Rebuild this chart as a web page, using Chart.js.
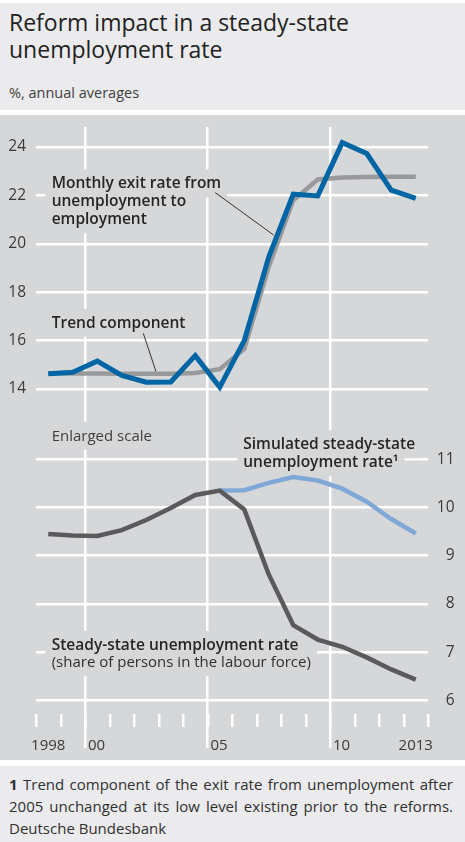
<!DOCTYPE html>
<html lang="en">
<head>
<meta charset="utf-8">
<title>Reform impact in a steady-state unemployment rate</title>
<script src="https://cdn.jsdelivr.net/npm/chart.js@4.4.1/dist/chart.umd.min.js"></script>
<style>
  html, body { margin: 0; padding: 0; background: #ffffff; }
  body { position: relative; width: 465px; height: 842px; overflow: hidden; font-family: "Open Sans", sans-serif; }
  .band { position: absolute; left: 0; width: 465px; }
  #head { top: 3px; height: 107px; background: #ebebed; }
  #plot { top: 115px; height: 645px; background: #d6d7d9; }
  #foot { top: 766px; height: 76px; background: #ebebed; }
  #title { position: absolute; left: 9px; top: 6px; margin: 0; font-size: 23px; font-weight: 400; line-height: 27.4px; color: #222222; }
  #subtitle { position: absolute; left: 9px; top: 80px; font-size: 14.5px; line-height: 20px; color: #404040; }
  #note { position: absolute; left: 9px; top: 6.5px; width: 444px; font-size: 15px; line-height: 22.7px; color: #303030; }
  #note div { text-align: justify; text-align-last: justify; }
  #source { position: absolute; left: 9px; top: 50.5px; font-size: 15px; line-height: 22.7px; color: #303030; }
  canvas { display: block; }
</style>
</head>
<body>
<div class="band" id="head">
  <h1 id="title">Reform impact in a steady-state<br>unemployment rate</h1>
  <div id="subtitle">%, annual averages</div>
</div>
<div class="band" id="plot">
  <canvas id="chart" width="465" height="645"></canvas>
</div>
<div class="band" id="foot">
  <div id="note">
    <div><b>1</b> Trend component of the exit rate from unemployment after</div>
    <div>2005 unchanged at its low level existing prior to the reforms.</div>
  </div>
  <div id="source">Deutsche Bundesbank</div>
</div>

<script>
// Annual averages, 1998-2013
const years = [1998, 1999, 2000, 2001, 2002, 2003, 2004, 2005, 2006, 2007, 2008, 2009, 2010, 2011, 2012, 2013];

// Upper panel: monthly exit rate from unemployment to employment (%)
const exitRate      = [14.63, 14.69, 15.15, 14.56, 14.28, 14.29, 15.38, 14.08, 16.00, 19.45, 22.05, 21.98, 24.18, 23.73, 22.22, 21.88];
const exitRateTrend = [14.64, 14.64, 14.64, 14.63, 14.63, 14.63, 14.66, 14.82, 15.65, 19.05, 21.80, 22.66, 22.74, 22.76, 22.77, 22.77];

// Lower panel (enlarged scale): steady-state unemployment rate (%)
const steadyStateRate = [9.45, 9.42, 9.41, 9.53, 9.74, 9.99, 10.26, 10.35, 9.96, 8.61, 7.56, 7.26, 7.11, 6.89, 6.64, 6.43];
const simulatedRate   = [null, null, null, null, null, null, null, 10.35, 10.36, 10.51, 10.63, 10.56, 10.39, 10.12, 9.76, 9.46];

// Axis ticks and labels
const exitTicks = [14, 16, 18, 20, 22, 24];
const rateTicks = [6, 7, 8, 9, 10, 11];
const gridYears = [2000, 2005, 2010];
const xTickLabels = ['1998', '00', '05', '10', '2013'];

const PLOT_BG = '#d6d7d9';
const GRID = '#ffffff';
const INK = '#262626';
const SEMI = '600 15.5px "Open Sans"';
const REG = '400 15px "Open Sans"';

// annual averages sit in the middle of each year
const series = values => years.map((yr, i) => ({ x: yr + 0.5, y: values[i] }));

// Placement of the in-chart texts, leader lines and the bottom year ruler
const decor = {
  tickTop: 34,
  tickBottom: 21,
  labelDrop: 1.5,
  yearLabels: [
    { at: 1998.5, align: 'center', shift: 0 },
    { at: 2000, align: 'left', shift: 3 },
    { at: 2005, align: 'left', shift: 3 },
    { at: 2010, align: 'left', shift: 3 },
    { at: 2013.5, align: 'center', shift: 0 }
  ],
  labels: [
    { axis: 'yTop', x: 1998.64, y: 22.29, gap: 18,
      lines: [ { text: 'Monthly exit rate from', font: SEMI },
               { text: 'unemployment to', font: SEMI },
               { text: 'employment', font: SEMI } ] },
    { axis: 'yTop', x: 1998.64, y: 16.53, gap: 18,
      lines: [ { text: 'Trend component', font: SEMI } ] },
    { axis: 'yBot', x: 1998.64, y: 11.386, gap: 18,
      lines: [ { text: 'Enlarged scale', font: REG, color: '#404040' } ] },
    { axis: 'yBot', x: 2006.46, y: 11.207, gap: 18,
      lines: [ { text: 'Simulated steady-state', font: SEMI },
               { text: 'unemployment rate\u00B9', font: SEMI } ] },
    { axis: 'yBot', x: 1998.64, y: 7.044, gap: 17.3,
      lines: [ { text: 'Steady-state unemployment rate', font: SEMI },
               { text: '(share of persons in the labour force)', font: REG, color: '#303030' } ] }
  ],
  leaders: [
    { axis: 'yTop', from: [2005.31, 22.12], to: [2007.70, 20.36] },
    { axis: 'yTop', from: [2002.38, 16.30], to: [2002.90, 14.71] }
  ]
};

// Draws labels (on backing boxes that interrupt the grid), leader lines,
// the year tick marks along the bottom and the year labels.
const panelDecor = {
  id: 'panelDecor',
  beforeDatasetsDraw(chart) {
    const ctx = chart.ctx;
    const xs = chart.scales.x;
    const area = chart.chartArea;
    ctx.save();

    // year tick marks
    ctx.strokeStyle = GRID;
    ctx.lineWidth = 2.5;
    const bounds = years.concat(years[years.length - 1] + 1);
    bounds.forEach(yr => {
      const px = Math.round(xs.getPixelForValue(yr)) + 0.25;
      ctx.beginPath();
      ctx.moveTo(px, area.bottom - decor.tickTop);
      ctx.lineTo(px, area.bottom - decor.tickBottom);
      ctx.stroke();
    });

    // year labels
    ctx.fillStyle = '#3a3a3a';
    ctx.font = '400 15px "Open Sans"';
    ctx.textBaseline = 'alphabetic';
    decor.yearLabels.forEach((pos, i) => {
      ctx.textAlign = pos.align;
      ctx.fillText(xTickLabels[i], xs.getPixelForValue(pos.at) + pos.shift, area.bottom + decor.labelDrop);
    });

    // label boxes first, then text
    decor.labels.forEach(lab => {
      const ys = chart.scales[lab.axis];
      const left = xs.getPixelForValue(lab.x);
      const base = ys.getPixelForValue(lab.y);
      ctx.fillStyle = PLOT_BG;
      lab.lines.forEach((ln, i) => {
        ctx.font = ln.font;
        const w = ctx.measureText(ln.text).width;
        const b = base + i * lab.gap;
        ctx.fillRect(left - 6, b - 19, w + 12, 28);
      });
    });
    ctx.textAlign = 'left';
    decor.labels.forEach(lab => {
      const ys = chart.scales[lab.axis];
      const left = xs.getPixelForValue(lab.x);
      const base = ys.getPixelForValue(lab.y);
      lab.lines.forEach((ln, i) => {
        ctx.font = ln.font;
        ctx.fillStyle = ln.color || INK;
        ctx.fillText(ln.text, left, base + i * lab.gap);
      });
    });

    // leader lines
    ctx.strokeStyle = '#333333';
    ctx.lineWidth = 1;
    decor.leaders.forEach(ld => {
      const ys = chart.scales[ld.axis];
      ctx.beginPath();
      ctx.moveTo(xs.getPixelForValue(ld.from[0]), ys.getPixelForValue(ld.from[1]));
      ctx.lineTo(xs.getPixelForValue(ld.to[0]), ys.getPixelForValue(ld.to[1]));
      ctx.stroke();
    });
    ctx.restore();
  }
};

const fixedTicks = list => scale => { scale.ticks = list.map(v => ({ value: v })); };

new Chart(document.getElementById('chart'), {
  type: 'line',
  data: {
    datasets: [
      { label: 'Monthly exit rate from unemployment to employment', data: series(exitRate), yAxisID: 'yTop',
        borderColor: '#0065a4', borderWidth: 5 },
      { label: 'Trend component', data: series(exitRateTrend), yAxisID: 'yTop',
        borderColor: '#98999b', borderWidth: 4.5 },
      { label: 'Steady-state unemployment rate', data: series(steadyStateRate), yAxisID: 'yBot',
        borderColor: '#5a5a5c', borderWidth: 4.5 },
      { label: 'Simulated steady-state unemployment rate', data: series(simulatedRate), yAxisID: 'yBot',
        borderColor: '#80a8d6', borderWidth: 4.5 }
    ]
  },
  options: {
    responsive: false,
    devicePixelRatio: 1,
    animation: false,
    events: [],
    layout: { padding: { top: 12, bottom: 12, left: 0, right: 10.5 } },
    elements: {
      point: { radius: 0, hoverRadius: 0 },
      line: { tension: 0, borderJoinStyle: 'miter', borderCapStyle: 'butt', fill: false }
    },
    scales: {
      x: {
        type: 'linear', position: 'bottom', min: 1998, max: 2014, bounds: 'data',
        afterBuildTicks: fixedTicks(gridYears),
        afterFit: s => { s.height = 0; s.paddingLeft = 0; s.paddingRight = 0; },
        ticks: { display: false },
        grid: { color: GRID, lineWidth: 2.5, drawTicks: false },
        border: { display: false }
      },
      yTop: {
        type: 'linear', position: 'left', min: -0.835, max: 24.826, bounds: 'data', grace: 0,
        afterBuildTicks: fixedTicks(exitTicks),
        afterFit: s => { s.width = 36; s.paddingTop = 0; s.paddingBottom = 0; },
        ticks: { color: '#3a3a3a', padding: 10, font: { family: '"Open Sans"', size: 15.5 } },
        grid: { color: GRID, lineWidth: 2.5, drawTicks: false },
        border: { display: false }
      },
      yBot: {
        type: 'linear', position: 'right', min: 5.010, max: 17.894, bounds: 'data', grace: 0,
        afterBuildTicks: fixedTicks(rateTicks),
        afterFit: s => { s.width = 26.5; s.paddingTop = 0; s.paddingBottom = 0; },
        ticks: { color: '#3a3a3a', padding: 9, crossAlign: 'far', font: { family: '"Open Sans"', size: 15.5 } },
        grid: { color: GRID, lineWidth: 2.5, drawTicks: false },
        border: { display: false }
      }
    },
    plugins: {
      legend: { display: false },
      tooltip: { enabled: false }
    }
  },
  plugins: [panelDecor]
});
</script>
</body>
</html>
